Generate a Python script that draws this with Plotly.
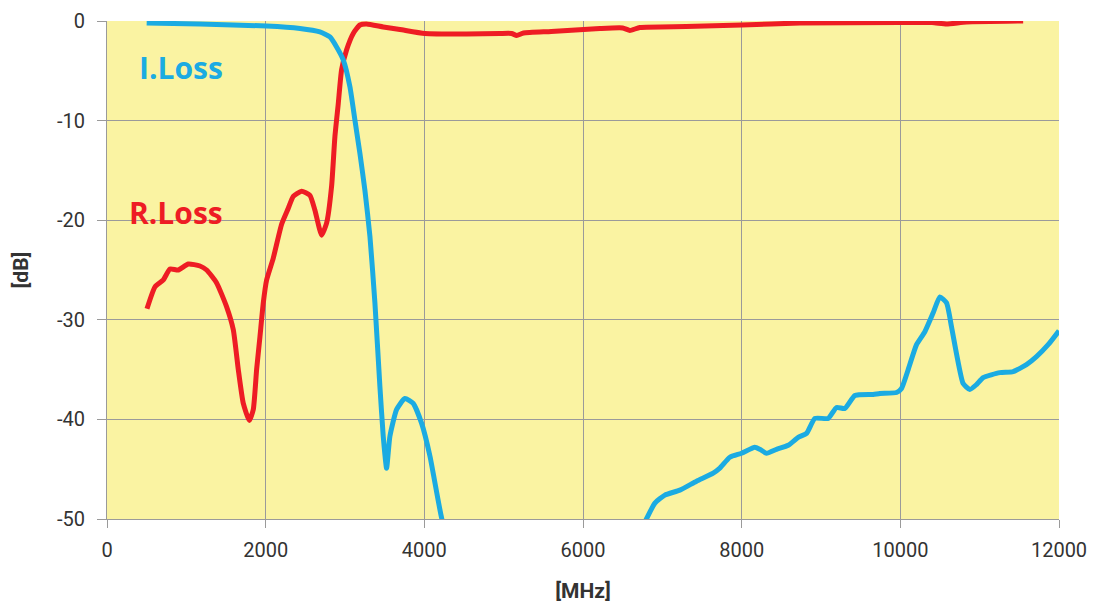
import plotly.graph_objects as go

# R.Loss (red) — frequency [MHz], level [dB]
r_freq = [504, 605, 710, 794, 899, 1025, 1172, 1256, 1382, 1508, 1592, 1655, 1718, 1794, 1844,
          1886, 1928, 1970, 2012, 2096, 2201, 2285, 2348, 2453, 2558, 2621, 2705, 2768, 2831,
          2873, 2915, 2957, 3020, 3104, 3188, 3272, 3482, 3692, 4007, 4533, 4953, 5100, 5164,
          5250, 5600, 6213, 6500, 6591, 6717, 7300, 8000, 8734, 9994, 10400, 10582, 10834, 11548]
r_db = [-28.9, -26.7, -26.0, -24.9, -25.0, -24.4, -24.6, -25.0, -26.3, -28.7, -31.0, -35.0, -38.4,
        -40.1, -39.0, -35.0, -31.7, -28.3, -26.0, -23.8, -20.4, -18.8, -17.6, -17.1, -17.5, -19.0,
        -21.5, -20.3, -16.6, -11.6, -8.3, -4.9, -2.9, -1.25, -0.4, -0.3, -0.6, -0.85, -1.25, -1.3,
        -1.25, -1.25, -1.45, -1.2, -1.05, -0.75, -0.7, -0.95, -0.65, -0.55, -0.4, -0.2, -0.15,
        -0.15, -0.3, -0.1, 0.0]

# I.Loss (blue)
i_freq = [500, 1172, 2012, 2432, 2684, 2810, 2894, 2978, 3062, 3125, 3188, 3251, 3314, 3377,
          3440, 3482, 3524, 3566, 3651, 3755, 3860, 3966, 4071, 4218, 4300, 5500, 6700,
          6801, 6906, 7032, 7221, 7431, 7641, 7725, 7851, 7998, 8166, 8229, 8313, 8439, 8587,
          8713, 8818, 8923, 9091, 9196, 9301, 9427, 9658, 9742, 9952, 10015, 10099, 10204,
          10309, 10414, 10498, 10582, 10645, 10708, 10792, 10876, 10960, 11044, 11254, 11422,
          11590, 11716, 11863, 12000]
i_db = [-0.2, -0.3, -0.5, -0.75, -1.1, -1.6, -2.6, -3.9, -6.6, -9.95, -13.3, -17.0, -21.6, -28.3,
        -36.7, -41.7, -44.9, -41.7, -39.0, -37.9, -38.4, -40.4, -43.7, -49.9, -52.0, -60.0, -51.5,
        -49.97, -48.4, -47.6, -47.1, -46.2, -45.4, -44.9, -43.8, -43.4, -42.8, -43.0, -43.4, -43.0,
        -42.6, -41.8, -41.4, -39.9, -39.9, -38.8, -38.9, -37.6, -37.5, -37.4, -37.3, -36.9, -35.0,
        -32.5, -31.2, -29.3, -27.7, -28.3, -30.7, -33.4, -36.4, -37.0, -36.5, -35.8, -35.3, -35.2,
        -34.5, -33.7, -32.5, -31.1]

x_ticks = [0, 2000, 4000, 6000, 8000, 10000, 12000]
y_ticks = [0, -10, -20, -30, -40, -50]

RED = "#EE1C24"
BLUE = "#1BABE2"
FONT = "Liberation Sans Narrow, Arial Narrow, Roboto, sans-serif"

fig = go.Figure()
fig.add_trace(go.Scatter(x=r_freq, y=r_db, mode="lines", name="R.Loss",
                         line=dict(color=RED, width=5, shape="spline", smoothing=0.5)))
fig.add_trace(go.Scatter(x=i_freq, y=i_db, mode="lines", name="I.Loss",
                         line=dict(color=BLUE, width=5, shape="spline", smoothing=0.5)))

fig.add_annotation(x=935, y=-4.65, text="<b>I.Loss</b>", showarrow=False,
                   font=dict(family="Open Sans, sans-serif", size=30, color=BLUE))
fig.add_annotation(x=870, y=-19.2, text="<b>R.Loss</b>", showarrow=False,
                   font=dict(family="Open Sans, sans-serif", size=30, color=RED))

fig.update_layout(
    width=1095, height=604,
    margin=dict(l=99, r=44, t=13, b=93),
    paper_bgcolor="white",
    plot_bgcolor="#FAF3A2",
    showlegend=False,
    font=dict(family=FONT, size=20, color="#333333"),
)
fig.update_xaxes(range=[0, 12000], tickvals=x_ticks, ticktext=[str(v) for v in x_ticks],
                 automargin=False, ticklabeloverflow="allow", ticklabelstandoff=5,
                 showgrid=True, gridcolor="#9A9A9A", gridwidth=1.2,
                 showline=True, linecolor="#9A9A9A", linewidth=1.2,
                 ticks="outside", ticklen=8, tickcolor="#9A9A9A",
                 zeroline=False,
                 title=dict(text="<b>[MHz]</b>", font=dict(family=FONT, size=21), standoff=22))
fig.update_yaxes(range=[-50, 0], tickvals=y_ticks, ticktext=[str(v) for v in y_ticks],
                 automargin=False, ticklabeloverflow="allow", ticklabelstandoff=8,
                 showgrid=True, gridcolor="#9A9A9A", gridwidth=1.2,
                 showline=True, linecolor="#9A9A9A", linewidth=1.2,
                 ticks="outside", ticklen=9, tickcolor="#9A9A9A",
                 zeroline=False,
                 title=dict(text="<b>[dB]</b>", font=dict(family=FONT, size=21), standoff=22))

fig.write_html("out.html")
